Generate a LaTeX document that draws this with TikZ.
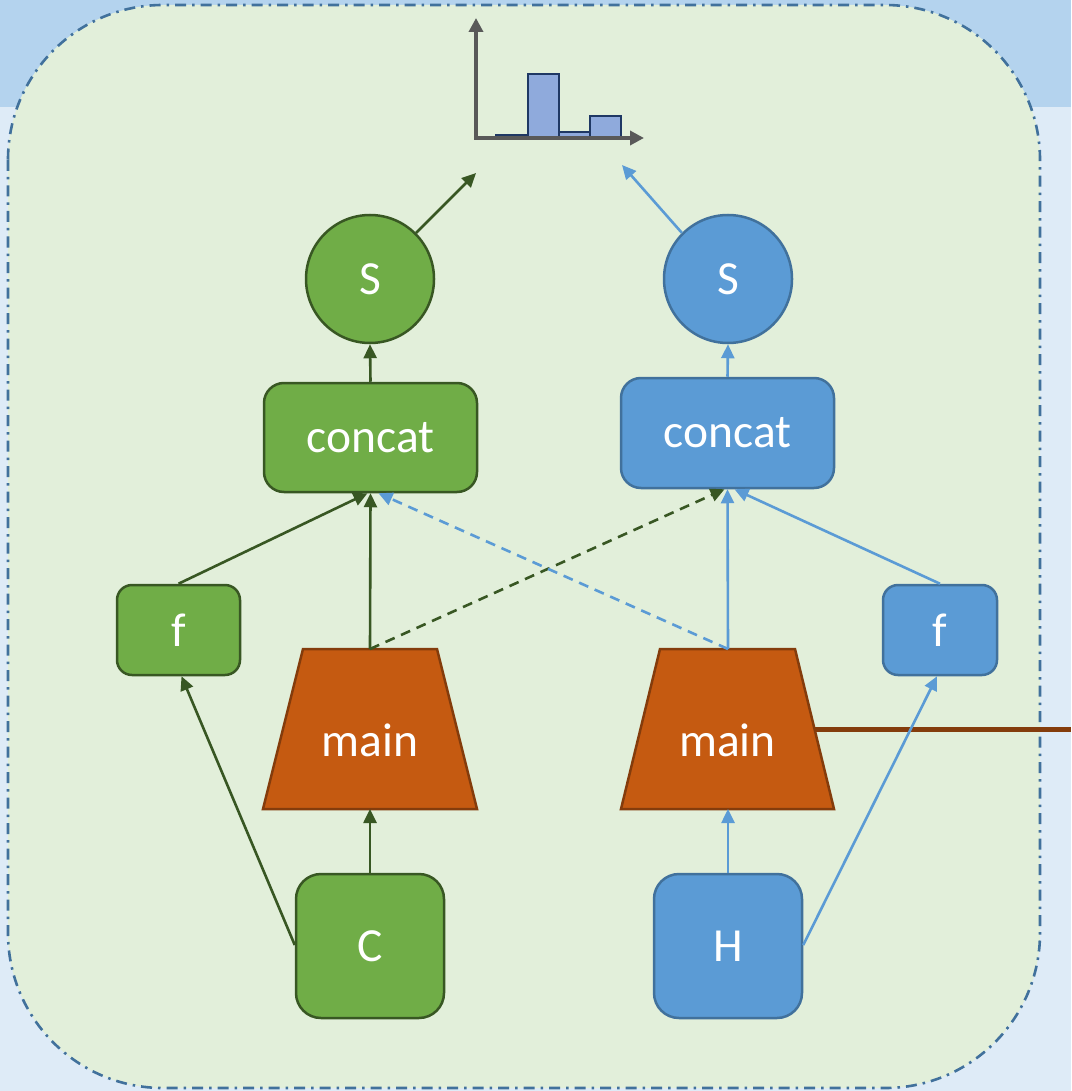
\documentclass[tikz,border=0pt]{standalone}
\usepackage{fontspec}
\setmainfont{Carlito}
\usetikzlibrary{arrows.meta,calc}
\definecolor{bglight}{RGB}{222,235,247}
\definecolor{bgband}{RGB}{180,211,238}
\definecolor{panelfill}{RGB}{226,239,218}
\definecolor{panelline}{RGB}{65,113,156}
\definecolor{gfill}{RGB}{112,173,71}
\definecolor{gline}{RGB}{56,87,35}
\definecolor{bfill}{RGB}{91,155,213}
\definecolor{bline}{RGB}{65,113,156}
\definecolor{ofill}{RGB}{197,90,17}
\definecolor{oline}{RGB}{132,60,12}
\definecolor{axisgray}{RGB}{89,89,89}
\definecolor{barfill}{RGB}{143,170,220}
\definecolor{barline}{RGB}{31,56,100}
\begin{document}
\begin{tikzpicture}[x=1pt,y=-1pt,
  txt/.style={text=white,font=\fontsize{47.5}{52}\selectfont},
  gbox/.style={draw=gline,fill=gfill,line width=2.5pt,rounded corners=20pt,inner sep=0pt,txt},
  bbox/.style={draw=bline,fill=bfill,line width=2.5pt,rounded corners=20pt,inner sep=0pt,txt},
  gcirc/.style={circle,draw=gline,fill=gfill,line width=2.5pt,minimum size=128pt,inner sep=0pt,txt},
  bcirc/.style={circle,draw=bline,fill=bfill,line width=2.5pt,minimum size=128pt,inner sep=0pt,txt},
  trap/.style={draw=oline,fill=ofill,line width=2.5pt},
  garr/.style={draw=gline,line width=2.6pt,-{Triangle[length=14pt,width=13pt]}},
  barr/.style={draw=bfill,line width=2.6pt,-{Triangle[length=14pt,width=13pt]}},
  dsh/.style={dash pattern=on 10pt off 7pt},
  bar/.style={draw=barline,fill=barfill,line width=2.2pt},
  axis/.style={draw=axisgray,line width=3.5pt,-{Triangle[length=14pt,width=14pt]}}
]
\useasboundingbox (0,0) rectangle (1071,1091);
\fill[bglight] (0,0) rectangle (1071,1091);
\fill[bgband] (0,0) rectangle (1071,107);
\draw[panelline,fill=panelfill,line width=2.6pt,rounded corners=155pt,
  dash pattern=on 11pt off 6pt on 2.5pt off 6pt] (8,5) rectangle (1040,1088);

% histogram
\draw[bar] (496,137) rectangle (528,135);
\draw[bar] (528,137) rectangle (559,74);
\draw[bar] (559,137) rectangle (590,132);
\draw[bar] (590,137) rectangle (621,116);
\coordinate (orig) at (476,138);
\coordinate (ytip) at (476,18);
\coordinate (xtip) at (644,138);
\draw[axis] (orig) -- (ytip);
\draw[axis] ([xshift=-1.75pt]orig) -- (xtip);

% nodes
\node[gcirc] (gS) at (370,279) {S};
\node[bcirc] (bS) at (728,279) {S};
\node[gbox,minimum width=213pt,minimum height=109pt] (gcat) at (370.5,437.5) {concat};
\node[bbox,minimum width=213pt,minimum height=110pt] (bcat) at (727.5,433) {concat};
\node[gbox,minimum width=123pt,minimum height=90pt,rounded corners=15pt] (gf) at (178.5,630) {f};
\node[bbox,minimum width=114pt,minimum height=90pt,rounded corners=15pt] (bf) at (940,630) {f};

% trapezoids (main)
\draw[trap] (303,649) -- (437,649) -- (477,809) -- (263,809) -- cycle;
\coordinate (gmainT) at (370,649);
\coordinate (gmainB) at (370,809);
\node[txt] (gmain) at (370,740) {main};
\draw[trap] (660,649) -- (795,649) -- (834,809) -- (621,809) -- cycle;
\coordinate (bmainT) at (728,649);
\coordinate (bmainB) at (728,809);
\coordinate (bmainE) at (814.5,729);
\node[txt] (bmain) at (727.5,740) {main};

\node[gbox,minimum width=148pt,minimum height=144pt,rounded corners=25pt] (C) at (370,946) {C};
\node[bbox,minimum width=148pt,minimum height=144pt,rounded corners=25pt] (H) at (728,946) {H};

\coordinate (gout) at (476,173);
\coordinate (bout) at (622,165);
\coordinate (brownend) at (1071,729);

% brown line
\draw[oline,line width=5pt] (bmainE) -- (brownend);

% green connectors
\draw[garr] (gS.45) -- (gout);
\draw[garr] (gcat.north) -- (gS.south);
\draw[garr] (gf.north) -- ([xshift=-3pt]gcat.south);
\draw[garr] (gmainT) -- (gcat.south);
\draw[garr,dsh] (gmainT) -- ([xshift=-3pt]bcat.south);
\draw[garr] (C.north) -- (gmainB);
\draw[garr] ([yshift=1pt]C.west) -- ([xshift=3pt]gf.south);

% blue connectors
\draw[barr] (bS.135) -- (bout);
\draw[barr] (bcat.north) -- (bS.south);
\draw[barr] (bmainT) -- (bcat.south);
\draw[barr,dsh] (bmainT) -- ([xshift=8pt]gcat.south);
\draw[barr] (bf.north) -- ([xshift=7pt]bcat.south);
\draw[barr] (H.north) -- (bmainB);
\draw[barr] ([yshift=1pt]H.east) -- ([xshift=-3pt]bf.south);
\end{tikzpicture}
\end{document}
